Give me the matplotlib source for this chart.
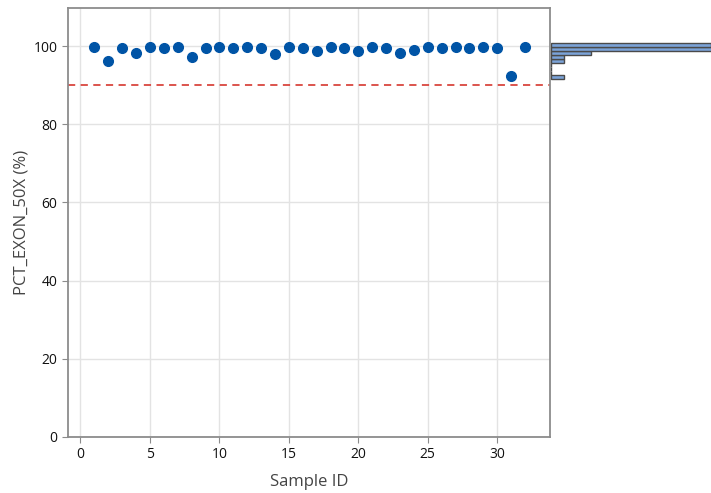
import matplotlib.pyplot as plt
import numpy as np

# Sample data
sample_ids = list(range(1, 33))
pct_exon_50x = [99.7, 96.2, 99.55, 98.3, 99.7, 99.55, 99.7, 97.3, 99.55, 99.7,
                99.55, 99.7, 99.55, 97.9, 99.7, 99.55, 98.8, 99.7, 99.55, 98.8,
                99.7, 99.55, 98.3, 99.1, 99.7, 99.55, 99.7, 99.55, 99.7, 99.55,
                92.3, 99.7]
threshold = 90
hist_bins = [91.65, 92.65, 93.65, 94.65, 95.65, 96.65, 97.65, 98.65, 99.65, 100.65]
y_ticks = [0, 20, 40, 60, 80, 100]
x_ticks = [0, 5, 10, 15, 20, 25, 30]

plt.rcParams['font.family'] = ['Open Sans', 'DejaVu Sans']

fig = plt.figure(figsize=(7.11, 4.93), dpi=100)
ax = fig.add_axes([0.0956, 0.1136, 0.678, 0.870])
ax_hist = fig.add_axes([0.7750, 0.1136, 0.225, 0.870], sharey=ax)

# Main scatter
ax.plot(sample_ids, pct_exon_50x, 'o', color='#0054A6', markersize=7, zorder=3)
ax.axhline(threshold, color='#D9463F', linestyle=(0, (4, 3)), linewidth=1.3, zorder=2)

ax.set_xlim(-0.9, 33.8)
ax.set_ylim(0, 109.7)
ax.set_xticks(x_ticks)
ax.set_yticks(y_ticks)
ax.grid(True, color='#E3E3E3', linewidth=1)
ax.set_axisbelow(True)
for s in ax.spines.values():
    s.set_color('#8C8C8C')
    s.set_linewidth(1.3)
ax.tick_params(colors='#8C8C8C', labelcolor='#111111', labelsize=10, length=4)
ax.set_xlabel('Sample ID', fontsize=12, color='#444444', labelpad=8)
ax.set_ylabel('PCT_EXON_50X (%)', fontsize=12, color='#444444', labelpad=3)

# Marginal histogram
ax_hist.hist(pct_exon_50x, bins=hist_bins, orientation='horizontal',
             color='#7BA3D8', edgecolor='#4A4A4A', linewidth=1)
ax_hist.set_xlim(0, 12)
ax_hist.axis('off')

fig.savefig('out.png', dpi=100)
